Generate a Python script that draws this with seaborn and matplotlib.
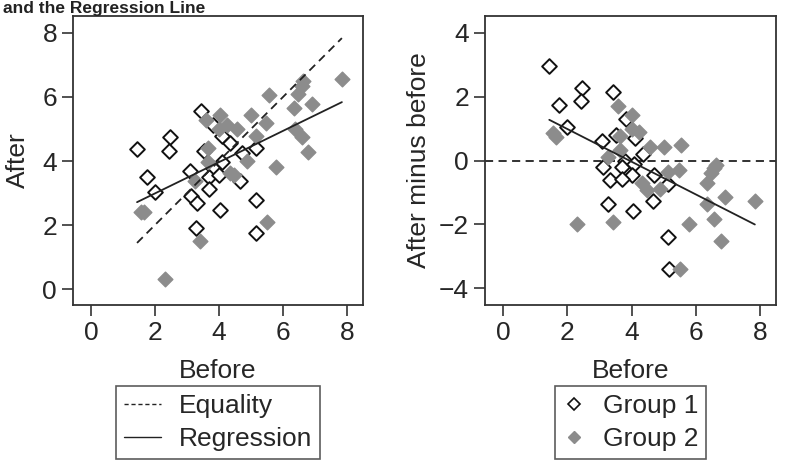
import numpy as np
import pandas as pd
import matplotlib
matplotlib.use("Agg")
import matplotlib.pyplot as plt
from matplotlib.lines import Line2D
import seaborn as sns

# values
g1_before = [1.44, 2.47, 1.75, 2.44, 3.43, 1.99, 3.82, 3.09, 3.53, 4.10, 4.36, 3.80, 3.12,
             3.70, 4.08, 4.00, 3.32, 3.70, 4.71, 5.15, 4.66, 3.27, 4.04, 5.15, 5.16]
g1_after = [4.39, 4.75, 3.49, 4.30, 5.57, 3.03, 5.13, 3.69, 4.32, 4.79, 4.55, 3.78, 2.92,
            3.50, 3.96, 3.56, 2.70, 3.11, 4.25, 4.42, 3.38, 1.92, 2.46, 2.77, 1.76]
g2_before = [1.55, 1.65, 2.31, 3.41, 3.59, 4.03, 4.00, 4.24, 4.57, 5.00, 5.55, 3.65, 3.65,
             3.26, 4.33, 4.48, 4.88, 5.15, 5.48, 5.50, 5.79, 6.34, 6.36, 6.58, 6.78, 6.92,
             7.84, 6.48, 6.58, 6.64]
g2_after = [2.40, 2.40, 0.31, 1.50, 5.29, 5.45, 4.99, 5.13, 5.00, 5.43, 6.05, 4.42, 3.98,
            3.38, 3.64, 3.56, 4.00, 4.79, 5.18, 2.10, 3.81, 5.65, 5.00, 4.74, 4.27, 5.79,
            6.57, 6.08, 6.34, 6.51]
groups = ["Group 1", "Group 2"]
ticks_x = [0, 2, 4, 6, 8]
ticks_left = [0, 2, 4, 6, 8]
ticks_right = [-4, -2, 0, 2, 4]

df = pd.DataFrame({
    "before": g1_before + g2_before,
    "after": g1_after + g2_after,
    "group": [groups[0]] * len(g1_before) + [groups[1]] * len(g2_before),
})
df["diff"] = df["after"] - df["before"]

sns.set_theme(style="ticks")
plt.rcParams["font.family"] = ["Liberation Sans", "DejaVu Sans"]

fig = plt.figure(figsize=(7.98, 4.74), dpi=100)
ax1 = fig.add_axes([0.0915, 0.3565, 0.3634, 0.6097])
ax2 = fig.add_axes([0.6078, 0.3565, 0.3647, 0.6097])

grey = "#8c8c8c"
styles = {
    "Group 1": dict(facecolor="white", edgecolor="#111111", linewidth=1.4),
    "Group 2": dict(facecolor=grey, edgecolor=grey, linewidth=1.0),
}
line_col = "#222222"
fs = 19

for ax, ycol in [(ax1, "after"), (ax2, "diff")]:
    for g in groups:
        sub = df[df["group"] == g]
        sns.scatterplot(data=sub, x="before", y=ycol, marker="D", s=56, ax=ax,
                        legend=False, zorder=3, **styles[g])
    sns.regplot(data=df, x="before", y=ycol, scatter=False, ci=None, ax=ax,
                color=line_col, line_kws=dict(lw=1.3, zorder=4))

# equality reference lines
lo, hi = df["before"].min(), df["before"].max()
ax1.plot([lo, hi], [lo, hi], ls=(0, (4.5, 3)), color=line_col, lw=1.3, zorder=4)
ax2.axhline(0, ls=(0, (4.5, 3)), color=line_col, lw=1.3, zorder=2)

ax1.set_xlim(-0.56, 8.5)
ax2.set_xlim(-0.56, 8.5)
ax1.set_ylim(-0.5, 8.53)
ax2.set_ylim(-4.52, 4.52)
ax1.set_yticks(ticks_left)
ax2.set_yticks(ticks_right)
ax1.set_ylabel("After", fontsize=fs, labelpad=9)
ax2.set_ylabel("After minus before", fontsize=fs, labelpad=6)

for ax in (ax1, ax2):
    ax.set_xticks(ticks_x)
    ax.set_xlabel("Before", fontsize=fs, labelpad=10)
    ax.tick_params(labelsize=fs, length=8, width=1.2, color="#333333", direction="out")
    for sp in ax.spines.values():
        sp.set_visible(True)
        sp.set_color("#333333")
        sp.set_linewidth(1.3)

h1 = [Line2D([], [], color=line_col, ls=(0, (3, 2)), lw=1.0),
      Line2D([], [], color=line_col, lw=1.0)]
leg1 = ax1.legend(h1, ["Equality", "Regression"], loc="upper center",
                  bbox_to_anchor=(0.5, -0.28), fontsize=fs, frameon=True,
                  fancybox=False, handlelength=1.4, handletextpad=0.7,
                  borderpad=0.3, labelspacing=0.36, borderaxespad=0)
h2 = [Line2D([], [], marker="D", ls="", markersize=6, markerfacecolor="white",
             markeredgecolor="#111111", markeredgewidth=1.2),
      Line2D([], [], marker="D", ls="", markersize=6, markerfacecolor=grey,
             markeredgecolor=grey)]
leg2 = ax2.legend(h2, groups, loc="upper center", bbox_to_anchor=(0.5, -0.28),
                  fontsize=fs, frameon=True, fancybox=False, handlelength=0.8,
                  handletextpad=0.7, borderpad=0.3, labelspacing=0.36, borderaxespad=0)
for leg in (leg1, leg2):
    leg.get_frame().set_edgecolor("#333333")
    leg.get_frame().set_linewidth(1.2)

fig.text(0.004, 1 - 12.5 / 474, "and the Regression Line", fontsize=12.5,
         fontweight="bold", va="baseline", ha="left", color="#222222")

fig.savefig("out.png", dpi=100)
